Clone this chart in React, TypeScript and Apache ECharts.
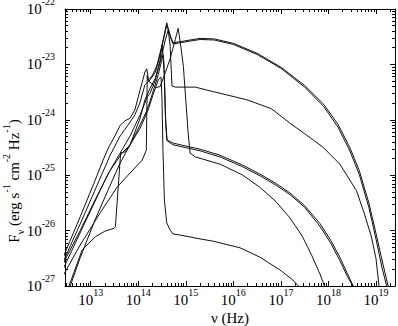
import React, { useEffect, useRef } from "react";
import * as echarts from "echarts";

const SERIF = "Liberation Serif";

// axis ranges (log10 of nu [Hz] and log10 of F_nu)
const xMin = 12.46;
const xMax = 19.4;
const yMin = -27;
const yMax = -22;
const xMajor = [13, 14, 15, 16, 17, 18, 19];
const yMajor = [-27, -26, -25, -24, -23, -22];

// curves: [log10 nu, log10 F_nu]
const curveE = [
  [12.4, -26.55], [12.46, -26.4], [12.78, -25.75], [13.09, -25.1], [13.26, -24.73], [13.37, -24.51],
  [13.51, -24.29], [13.62, -24.1], [13.72, -24.02], [13.83, -23.97], [13.93, -23.82], [14.04, -23.46],
  [14.14, -23.14], [14.18, -23.08], [14.215, -23.28], [14.29, -23.21], [14.39, -23.03], [14.5, -22.65],
  [14.6, -22.25], [14.67, -22.47], [14.73, -22.61], [14.88, -22.59], [15.3, -22.53], [15.6, -22.54],
  [16.0, -22.62], [16.5, -22.8], [17.0, -23.05], [17.5, -23.38], [17.9, -23.72], [18.2, -24.08],
  [18.45, -24.5], [18.65, -24.92], [18.85, -25.5], [19.0, -26.05], [19.15, -26.62], [19.27, -27.05],
];
const curveE2 = [
  [12.4, -26.61], [12.46, -26.49], [12.78, -25.88], [13.09, -25.27], [13.41, -24.64], [13.62, -24.29],
  [13.79, -24.09], [13.93, -23.91], [14.04, -23.68], [14.14, -23.37], [14.25, -23.28], [14.36, -23.14],
  [14.46, -22.83], [14.6, -22.29], [14.67, -22.49], [14.73, -22.63], [14.88, -22.61], [15.3, -22.55],
  [15.6, -22.56], [16.0, -22.64], [16.5, -22.82], [17.0, -23.07], [17.5, -23.41], [17.9, -23.76],
  [18.2, -24.13], [18.45, -24.56], [18.65, -24.99], [18.85, -25.58], [19.0, -26.15], [19.13, -26.68],
  [19.24, -27.05],
];
const curveF = [
  [12.4, -26.65], [12.46, -26.53], [12.78, -26.0], [13.09, -25.45], [13.41, -24.91], [13.62, -24.6],
  [13.83, -24.29], [14.04, -23.91], [14.19, -23.59], [14.25, -23.52], [14.36, -23.28], [14.46, -22.96],
  [14.57, -22.56], [14.63, -22.38], [14.67, -22.65], [14.71, -23.39], [14.78, -23.41], [15.2, -23.41],
  [15.57, -23.49], [16.29, -23.64], [16.8, -23.8], [17.19, -24.06], [17.5, -24.25], [17.88, -24.49],
  [18.24, -24.8], [18.59, -25.28], [18.75, -25.68], [18.9, -26.1], [19.0, -26.5], [19.07, -27.05],
];
const curveG = [
  [12.5, -27.1], [12.54, -27.01], [12.82, -26.35], [13.1, -26.11], [13.3, -26.01], [13.49, -25.96],
  [13.52, -25.93], [13.63, -24.6], [13.72, -24.58], [13.83, -24.45], [13.93, -24.22], [14.04, -23.97],
  [14.14, -23.64], [14.25, -23.43], [14.36, -23.25], [14.46, -22.92], [14.5, -22.65], [14.54, -22.96],
  [14.57, -23.91], [14.6, -24.36], [14.73, -24.42], [14.88, -24.45], [15.3, -24.53], [15.72, -24.64],
  [16.2, -24.82], [16.56, -24.98], [16.9, -25.15], [17.19, -25.32], [17.5, -25.55], [17.82, -25.87],
  [18.05, -26.18], [18.24, -26.48], [18.4, -26.78], [18.55, -27.05],
];
const curveG2 = [
  [12.5, -27.15], [12.57, -27.0], [12.78, -26.49], [13.09, -25.81], [13.41, -25.18], [13.62, -24.78],
  [13.83, -24.45], [14.04, -24.09], [14.19, -23.82], [14.29, -23.55], [14.42, -23.19], [14.52, -22.83],
  [14.55, -23.19], [14.58, -24.09], [14.61, -24.38], [14.73, -24.45], [14.88, -24.48], [15.3, -24.56],
  [15.72, -24.67], [16.2, -24.85], [16.56, -25.01], [16.9, -25.18], [17.19, -25.35], [17.5, -25.58],
  [17.82, -25.92], [18.05, -26.23], [18.24, -26.54], [18.4, -26.83], [18.58, -27.1],
];
const curveH = [
  [12.4, -26.85], [12.46, -26.75], [12.78, -26.26], [13.2, -25.68], [13.56, -25.21], [13.83, -24.96],
  [14.08, -24.73], [14.17, -24.55], [14.19, -23.2], [14.215, -23.3], [14.29, -23.35], [14.36, -23.42],
  [14.46, -23.4], [14.57, -23.15], [14.67, -22.9], [14.78, -22.55], [14.84, -22.35], [14.9, -22.7],
  [14.95, -23.04], [15.05, -24.24], [15.09, -24.6], [15.2, -24.67], [15.72, -24.8], [16.2, -25.0],
  [16.56, -25.22], [16.9, -25.48], [17.19, -25.77], [17.45, -26.1], [17.65, -26.45], [17.82, -26.78],
  [17.95, -27.08],
];
const curveI = [
  [12.4, -26.74], [12.46, -26.62], [13.35, -25.0], [13.39, -24.94], [13.66, -24.6], [13.83, -24.45],
  [14.04, -24.15], [14.21, -23.82], [14.31, -23.55], [14.42, -23.28], [14.48, -23.23], [14.5, -23.64],
  [14.52, -24.55], [14.55, -25.45], [14.6, -25.86], [14.67, -25.99], [14.73, -26.06], [14.88, -26.08],
  [15.3, -26.15], [15.57, -26.19], [16.14, -26.31], [16.56, -26.48], [16.98, -26.71], [17.25, -26.89],
  [17.42, -27.05],
];

const curves = [curveE, curveE2, curveF, curveG, curveG2, curveH, curveI];

function logMinor(lo: number, hi: number) {
  const out: number[] = [];
  for (let n = Math.floor(lo); n <= Math.ceil(hi); n++) {
    for (let k = 2; k <= 9; k++) {
      const v = n + Math.log10(k);
      if (v > lo && v < hi) out.push(v);
    }
  }
  return out;
}

export default function App() {
  const ref = useRef<HTMLDivElement>(null);
  useEffect(() => {
    const chart = echarts.init(ref.current!, null, { renderer: "svg" });
    const xMinor = logMinor(xMin, xMax);
    const yMinor = logMinor(yMin, yMax);
    const rich = {
      b: { fontFamily: SERIF, fontSize: 15, color: "#000", padding: [5, 0, 0, 0] },
      s: { fontFamily: SERIF, fontSize: 10, color: "#000", verticalAlign: "top" },
    };
    const lineOn = { show: true, onZero: false, lineStyle: { color: "#000", width: 1 } };
    const mk = (
      kind: "x" | "y",
      position: string,
      ticks: number[],
      len: number,
      labels: boolean,
      showLine: boolean
    ) => ({
      type: "value",
      position,
      min: kind === "x" ? xMin : yMin,
      max: kind === "x" ? xMax : yMax,
      axisLine: showLine ? lineOn : { show: false },
      axisTick: {
        show: true,
        inside: true,
        length: len,
        customValues: ticks,
        lineStyle: { color: "#000", width: 1 },
      },
      axisLabel: labels
        ? {
            show: true,
            customValues: ticks,
            margin: kind === "x" ? 1 : 10,
            padding: kind === "x" ? 0 : [0, 0, 5, 0],
            fontFamily: SERIF,
            formatter: (v: number) => `{b|10}{s|${Math.round(v)}}`,
            rich,
          }
        : { show: false },
      splitLine: { show: false },
      minorTick: { show: false },
      minorSplitLine: { show: false },
    });

    chart.setOption({
      animation: false,
      backgroundColor: "#fff",
      textStyle: { fontFamily: SERIF },
      grid: { left: 65, right: 3, top: 9, bottom: 40, containLabel: false, outerBoundsMode: "none" },
      xAxis: [
        mk("x", "bottom", xMajor, 5, true, true),
        mk("x", "bottom", xMinor, 3, false, false),
        mk("x", "top", xMajor, 5, false, true),
        mk("x", "top", xMinor, 3, false, false),
      ],
      yAxis: [
        mk("y", "left", yMajor, 5, true, true),
        mk("y", "left", yMinor, 3, false, false),
        mk("y", "right", yMajor, 5, false, true),
        mk("y", "right", yMinor, 3, false, false),
      ],
      series: curves.map((c) => ({
        type: "line",
        data: c,
        xAxisIndex: 0,
        yAxisIndex: 0,
        symbol: "none",
        showSymbol: false,
        silent: true,
        clip: true,
        lineStyle: { color: "#111", width: 1 },
      })),
      graphic: [
        {
          type: "text",
          x: 230,
          y: 318,
          silent: true,
          style: {
            text: "ν (Hz)",
            fontFamily: SERIF,
            fontSize: 15,
            fill: "#000",
            align: "center",
            verticalAlign: "middle",
          },
        },
        {
          type: "text",
          x: 13,
          y: 181,
          rotation: Math.PI / 2,
          silent: true,
          style: {
            text: "{b|F}{sub|ν}{b| (erg s}{sup|-1}{b| cm}{sup|-2}{b| Hz}{sup|-1}{b|)}",
            fontFamily: SERIF,
            fontSize: 15,
            fill: "#000",
            align: "center",
            verticalAlign: "middle",
            rich: {
              b: { fontFamily: SERIF, fontSize: 15, fill: "#000", padding: [5, 0, 4, 0] },
              sup: { fontFamily: SERIF, fontSize: 10, fill: "#000", verticalAlign: "top" },
              sub: { fontFamily: SERIF, fontSize: 10, fill: "#000", verticalAlign: "bottom" },
            },
          },
        },
      ],
    });
    return () => chart.dispose();
  }, []);
  return (
    <div
      ref={ref}
      style={{ position: "absolute", left: 0, top: 0, width: 398, height: 326, background: "#fff" }}
    />
  );
}
